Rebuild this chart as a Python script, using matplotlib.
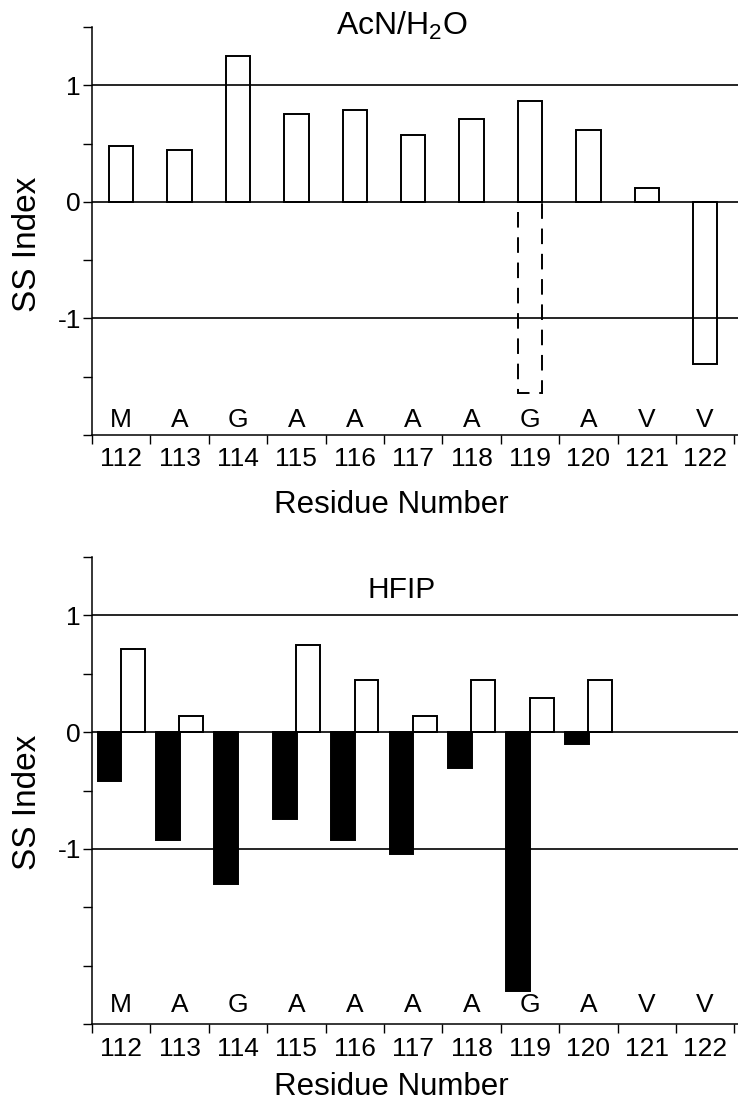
import numpy as np
import matplotlib
matplotlib.use("Agg")
import matplotlib.pyplot as plt

plt.rcParams['font.family'] = ['Liberation Sans', 'DejaVu Sans']
plt.rcParams['mathtext.fontset'] = 'custom'
plt.rcParams['mathtext.rm'] = 'Liberation Sans'
plt.rcParams['mathtext.default'] = 'regular'

# ---- data ----
residues = [112, 113, 114, 115, 116, 117, 118, 119, 120, 121, 122]
amino_acids = ["M", "A", "G", "A", "A", "A", "A", "G", "A", "V", "V"]

acn_ss = [0.48, 0.445, 1.255, 0.75, 0.79, 0.575, 0.71, 0.865, 0.62, 0.12, -1.39]
acn_dashed_residue = [119]
acn_dashed_ss = [-1.64]

hfip_black = [-0.42, -0.92, -1.30, -0.74, -0.92, -1.04, -0.31, -2.22, -0.10, None, None]
hfip_white = [0.71, 0.14, None, 0.75, 0.45, 0.14, 0.45, 0.29, 0.45, None, None]

ytick_vals = [-1, 0, 1]
ytick_labels = ["-1", "0", "1"]

W, H = 738, 1106
fig = plt.figure(figsize=(W / 100, H / 100), dpi=100)

ax1 = fig.add_axes([92 / W, 1 - 435 / H, 646 / W, 408 / H])
ax2 = fig.add_axes([92 / W, 1 - 1024 / H, 646 / W, 467 / H])

xlo = 111.5
xhi = 111.5 + 646 / 58.4

LW = 1.4
TICKFS = 19


def style(ax, ylo, yhi, title, title_fs, title_y, letter_y, xlabel_y, ylabel_y):
    ax.set_xlim(xlo, xhi)
    ax.set_ylim(ylo, yhi)
    for s in ["top", "right"]:
        ax.spines[s].set_visible(False)
    for s in ["left", "bottom"]:
        ax.spines[s].set_linewidth(1.1)
    for yv in ytick_vals:
        ax.axhline(yv, color="black", lw=1.2, zorder=3)
    ax.set_yticks(ytick_vals)
    ax.set_yticklabels(ytick_labels)
    ax.set_yticks(np.arange(ylo, yhi + 0.01, 0.5), minor=True)
    ax.tick_params(axis="y", which="both", direction="out", length=6.5,
                   width=1.0, pad=1.5, labelsize=TICKFS)
    bounds = np.arange(111.5, 123.0, 1.0)
    ax.set_xticks(bounds)
    ax.set_xticklabels([])
    ax.set_xticks(residues, minor=True)
    ax.set_xticklabels([str(r) for r in residues], minor=True)
    ax.tick_params(axis="x", which="major", direction="out", length=6.5, width=1.0)
    ax.tick_params(axis="x", which="minor", length=0, pad=9, labelsize=TICKFS)
    for r, aa in zip(residues, amino_acids):
        ax.text(r, letter_y, aa, ha="center", va="baseline", fontsize=TICKFS)
    ax.text(116.8, title_y, title, ha="center", va="baseline", fontsize=title_fs)
    ax.set_xlabel("Residue Number", fontsize=22.5, va="center")
    ax.xaxis.set_label_coords(0.464, xlabel_y)
    ax.set_ylabel("SS Index", fontsize=24, va="center")
    ax.yaxis.set_label_coords(-0.1, ylabel_y)


# ---- top panel ----
ax1.bar(residues, acn_ss, width=0.42, facecolor="white", edgecolor="black",
        linewidth=LW, zorder=2)
ax1.bar(acn_dashed_residue, acn_dashed_ss, width=0.42, fill=False,
        edgecolor="black", linewidth=LW, linestyle=(0, (8, 5)), zorder=2)
style(ax1, -2.0, 1.5, r"AcN/H$_2$O", 23, 1.43, -1.93, -0.172, 0.468)

# ---- bottom panel ----
bx = [r - 0.2 for r, v in zip(residues, hfip_black) if v is not None]
bv = [v for v in hfip_black if v is not None]
wx = [r + 0.2 for r, v in zip(residues, hfip_white) if v is not None]
wv = [v for v in hfip_white if v is not None]
ax2.bar(bx, bv, width=0.41, facecolor="black", edgecolor="black",
        linewidth=LW, zorder=2)
ax2.bar(wx, wv, width=0.41, facecolor="white", edgecolor="black",
        linewidth=LW, zorder=2)
style(ax2, -2.5, 1.5, "HFIP", 21.5, 1.15, -2.40, -0.134, 0.475)

fig.savefig("out.png", dpi=100)
